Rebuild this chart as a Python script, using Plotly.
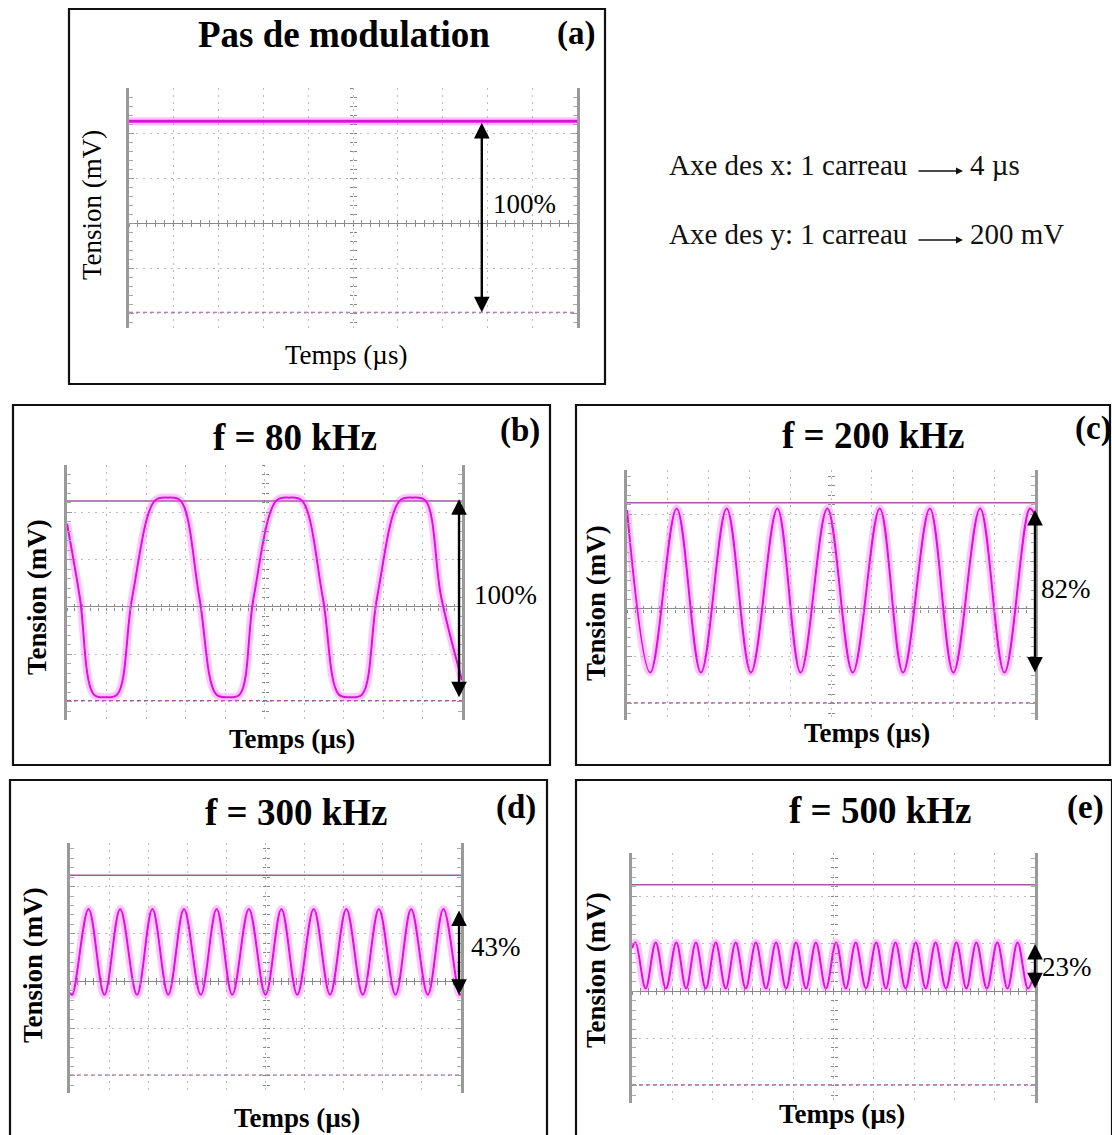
import plotly.graph_objects as go

W, H = 1112, 1135

# Oscilloscope scales
US_PER_DIV = 4          # Axe des x: 1 carreau -> 4 µs
MV_PER_DIV = 200        # Axe des y: 1 carreau -> 200 mV
N_XDIV = 10
T_END = US_PER_DIV * N_XDIV

# Cursor levels (mV): solid = maximum, dashed = zero light
TOP_LEVEL_MV = 448
ZERO_LEVEL_MV = -396
FULL_SWING_MV = TOP_LEVEL_MV - ZERO_LEVEL_MV

# (a) no modulation: flat trace
a_t = [0, 40]
a_v = [452, 452]

# Modulation depth (%) and mean level (mV) of each modulated trace
depth_pct = {"b": 100, "c": 82, "d": 43, "e": 23}
mean_mv = {"b": 40, "c": 78, "d": 124, "e": 108}

# (b) 80 kHz, saturated: knot times (µs) and normalised level (-1 .. 1)
b_t = [0, 1.3, 2.7, 3.9, 5.1, 6.6, 8.9, 10.2, 11.5, 13.4, 15.1, 16.3, 17.5,
       18.9, 21.2, 22.5, 23.8, 25.9, 27.5, 28.7, 29.9, 31.4, 33.7, 35.0,
       36.3, 37.9, 40]
b_lvl = [0.74, 0, -0.97, -1, -0.97, 0, 0.97, 1, 0.97, 0, -0.97, -1, -0.97,
         0, 0.97, 1, 0.97, 0, -0.97, -1, -0.97, 0, 0.97, 1, 0.97, 0, -0.83]

# (c) 200 kHz
c_peaks = [4.87, 9.77, 14.74, 19.64, 24.78, 29.69, 34.62, 39.49]
c_troughs = [2.28, 7.25, 12.15, 17.02, 22.13, 27.06, 32.0, 37.0]
c_ends = [0.98, 0.92]

# (d) 300 kHz
d_peaks = [1.90, 5.13, 8.43, 11.66, 15.0, 18.3, 21.63, 24.93, 28.27, 31.6,
           34.9, 38.2]
d_troughs = [0.23, 3.52, 6.85, 10.05, 13.38, 16.6, 20.0, 23.25, 26.6, 29.95,
             33.3, 36.6, 39.85]
d_ends = [-0.95, -0.97]

# (e) 500 kHz
e_peaks = [0.35, 2.35, 4.4, 6.34, 8.31, 10.29, 12.29, 14.3, 16.28, 18.25,
           20.26, 22.2, 24.24, 26.15, 28.16, 30.13, 32.2, 34.18, 36.26, 38.27]
e_troughs = [1.35, 3.37, 5.37, 7.32, 9.3, 11.29, 13.3, 15.29, 17.27, 19.25,
             21.23, 23.22, 25.2, 27.15, 29.15, 31.16, 33.19, 35.22, 37.27,
             39.3]
e_ends = [0.75, -0.2]

titles = {"a": "Pas de modulation", "b": "f = 80 kHz", "c": "f = 200 kHz",
          "d": "f = 300 kHz", "e": "f = 500 kHz"}

# ---------------------------------------------------------------- layout (px)
panels = {
    "a": dict(box=(69, 9, 605, 384), plot=(129, 88, 577, 328), yr=(-466, 600),
              title_xy=(344, 34), tag_xy=(576, 33), ylab_xy=(92, 205),
              xlab_xy=(346, 355), pct_xy=(524, 204), arrow_t=31.5, bold=False),
    "b": dict(box=(13, 405, 550, 765), plot=(67, 465, 462, 720), yr=(-478, 600),
              title_xy=(295, 438), tag_xy=(520, 431), ylab_xy=(37, 597),
              xlab_xy=(292, 739), pct_xy=(505, 595), arrow_t=39.7, bold=True),
    "c": dict(box=(576, 405, 1110, 765), plot=(627, 470, 1035, 720), yr=(-468, 586),
              title_xy=(873, 435), tag_xy=(1093, 428), ylab_xy=(596, 603),
              xlab_xy=(867, 733), pct_xy=(1066, 589), arrow_t=40, bold=True),
    "d": dict(box=(10, 780, 547, 1145), plot=(70, 843, 461, 1093), yr=(-472, 584),
              title_xy=(296, 813), tag_xy=(516, 807), ylab_xy=(33, 965),
              xlab_xy=(297, 1118), pct_xy=(496, 947), arrow_t=39.8, bold=True),
    "e": dict(box=(576, 780, 1112, 1145), plot=(632, 853, 1035, 1103), yr=(-472, 582),
              title_xy=(880, 810), tag_xy=(1085, 807), ylab_xy=(596, 970),
              xlab_xy=(842, 1114), pct_xy=(1067, 967), arrow_t=40, bold=True),
}

SERIF = "Liberation Serif, Times New Roman, serif"
GRID = "#bdbdbd"
EDGE = "#9a9a9a"
CENTER = "#8a8a8a"
CURSOR = "#a2589e"
TRACE = "#e00fe0"
HALO = "rgba(255, 70, 255, 0.30)"


def px(x):
    return x / W


def py(y):
    return 1 - y / H


def knots(peaks, troughs, ends):
    pts = [(t, 1.0) for t in peaks] + [(t, -1.0) for t in troughs]
    pts.sort()
    ts = [0.0] + [p[0] for p in pts] + [float(T_END)]
    ls = [ends[0]] + [p[1] for p in pts] + [ends[1]]
    return ts, ls


waves = {
    "b": (b_t, b_lvl),
    "c": knots(c_peaks, c_troughs, c_ends),
    "d": knots(d_peaks, d_troughs, d_ends),
    "e": knots(e_peaks, e_troughs, e_ends),
}

fig = go.Figure()
layout = dict(width=W, height=H, margin=dict(l=0, r=0, t=0, b=0),
              paper_bgcolor="white", plot_bgcolor="white", showlegend=False)
shapes, annotations = [], []

for i, key in enumerate(["a", "b", "c", "d", "e"]):
    p = panels[key]
    k = 3 * i + 1
    names = [("" if n == 1 else str(n)) for n in (k, k + 1, k + 2)]
    xs = ["x" + n for n in names]
    ys = ["y" + n for n in names]
    x0, y0, x1, y1 = p["plot"]
    xdom = [px(x0), px(x1)]
    ydom = [py(y1), py(y0)]
    yr = list(p["yr"])
    yc = ydom[0] + (0 - yr[0]) / (yr[1] - yr[0]) * (ydom[1] - ydom[0])
    xc = xdom[0] + 0.5 * (xdom[1] - xdom[0])

    # main screen: dotted graticule, thick side edges with fine ticks
    layout["xaxis" + names[0]] = dict(
        domain=xdom, range=[0, T_END], anchor=ys[0], tickmode="linear", tick0=0,
        dtick=US_PER_DIV, showgrid=True, gridcolor=GRID, griddash="2px,5px",
        gridwidth=1, zeroline=False, showline=False, ticks="",
        showticklabels=False, fixedrange=True)
    layout["yaxis" + names[0]] = dict(
        domain=ydom, range=yr, anchor=xs[0], tickmode="linear", tick0=0,
        dtick=MV_PER_DIV, showgrid=True, gridcolor=GRID, griddash="2px,5px",
        gridwidth=1, zeroline=True, zerolinecolor=CENTER, zerolinewidth=1,
        showline=True, linecolor=EDGE, linewidth=3, mirror="ticks",
        ticks="inside", ticklen=5, tickcolor=EDGE, showticklabels=False,
        minor=dict(tick0=0, dtick=MV_PER_DIV / 5, ticks="inside", ticklen=4,
                   tickcolor="#aaaaaa", showgrid=False),
        fixedrange=True)
    # central cross-hair graduations on both sides of each centre line
    for j, side_ticks in ((1, "outside"), (2, "inside")):
        layout["xaxis" + names[j]] = dict(
            overlaying=xs[0], anchor="free", position=yc, side="bottom",
            range=[0, T_END], tickmode="linear", tick0=0,
            dtick=US_PER_DIV / 5, ticks=side_ticks, ticklen=3,
            tickcolor=CENTER, showticklabels=False, showgrid=False,
            zeroline=False, showline=False, fixedrange=True)
        layout["yaxis" + names[j]] = dict(
            overlaying=ys[0], anchor="free", position=xc, side="left",
            range=yr, tickmode="linear", tick0=0, dtick=MV_PER_DIV / 5,
            ticks=side_ticks, ticklen=3, tickcolor=CENTER,
            showticklabels=False, showgrid=False, zeroline=False,
            showline=False, fixedrange=True)
        fig.add_trace(go.Scatter(x=[], y=[], xaxis=xs[j], yaxis=ys[j],
                                 hoverinfo="skip"))

    # cursors
    fig.add_trace(go.Scatter(x=[0, T_END], y=[ZERO_LEVEL_MV] * 2, mode="lines",
                             line=dict(color=CURSOR, width=1.2, dash="4px,3px"),
                             xaxis=xs[0], yaxis=ys[0], hoverinfo="skip"))
    if key == "a":
        t, v = a_t, a_v
        hi, lo = a_v[0], ZERO_LEVEL_MV
        halo_w, core_w = 8, 3
    else:
        fig.add_trace(go.Scatter(x=[0, T_END], y=[TOP_LEVEL_MV] * 2, mode="lines",
                                 line=dict(color=CURSOR, width=1.5),
                                 xaxis=xs[0], yaxis=ys[0], hoverinfo="skip"))
        half = depth_pct[key] / 100 * FULL_SWING_MV / 2
        t, lv = waves[key]
        v = [mean_mv[key] + l * half for l in lv]
        hi, lo = mean_mv[key] + half, mean_mv[key] - half
        halo_w, core_w = 8, 2

    fig.add_trace(go.Scatter(x=t, y=v, mode="lines",
                             line=dict(color=HALO, width=halo_w, shape="spline",
                                       smoothing=1),
                             xaxis=xs[0], yaxis=ys[0], hoverinfo="skip"))
    fig.add_trace(go.Scatter(x=t, y=v, mode="lines",
                             line=dict(color=TRACE, width=core_w, shape="spline",
                                       smoothing=1),
                             xaxis=xs[0], yaxis=ys[0], hoverinfo="skip"))

    # measured swing
    annotations.append(dict(
        x=p["arrow_t"], y=lo, ax=p["arrow_t"], ay=hi, xref=xs[0], yref=ys[0],
        axref=xs[0], ayref=ys[0], text="", showarrow=True, arrowhead=2,
        startarrowhead=2, arrowside="end+start", arrowsize=1.3,
        startarrowsize=1.3, arrowwidth=2.4, arrowcolor="black"))
    pct = 100 if key == "a" else depth_pct[key]
    annotations.append(dict(
        x=px(p["pct_xy"][0]), y=py(p["pct_xy"][1]), xref="paper", yref="paper",
        text=f"{pct}%", showarrow=False, xanchor="center", yanchor="middle",
        font=dict(family=SERIF, size=27, color="black")))

    # frame and texts
    bx0, by0, bx1, by1 = p["box"]
    shapes.append(dict(type="rect", xref="paper", yref="paper",
                       x0=px(bx0), x1=px(bx1), y0=py(by1), y1=py(by0),
                       line=dict(color="#111111", width=2.2)))
    annotations.append(dict(
        x=px(p["title_xy"][0]), y=py(p["title_xy"][1]), xref="paper",
        yref="paper", text=f"<b>{titles[key]}</b>", showarrow=False,
        xanchor="center", yanchor="middle",
        font=dict(family=SERIF, size=37, color="black")))
    annotations.append(dict(
        x=px(p["tag_xy"][0]), y=py(p["tag_xy"][1]), xref="paper", yref="paper",
        text=f"<b>({key})</b>", showarrow=False, xanchor="center",
        yanchor="middle", font=dict(family=SERIF, size=33, color="black")))
    ylab = "Tension (mV)"
    xlab = "Temps (µs)"
    if p["bold"]:
        ylab, xlab = f"<b>{ylab}</b>", f"<b>{xlab}</b>"
    annotations.append(dict(
        x=px(p["ylab_xy"][0]), y=py(p["ylab_xy"][1]), xref="paper",
        yref="paper", text=ylab, textangle=-90, showarrow=False,
        xanchor="center", yanchor="middle",
        font=dict(family=SERIF, size=27, color="black")))
    annotations.append(dict(
        x=px(p["xlab_xy"][0]), y=py(p["xlab_xy"][1]), xref="paper",
        yref="paper", text=xlab, showarrow=False, xanchor="center",
        yanchor="middle", font=dict(family=SERIF, size=27, color="black")))

# scale legend on the right of panel (a)
scale_lines = [("Axe des x: 1 carreau", f"{US_PER_DIV} µs", 165),
               ("Axe des y: 1 carreau", f"{MV_PER_DIV} mV", 234)]
for left_txt, right_txt, yy in scale_lines:
    annotations.append(dict(
        x=px(667), y=py(yy), xref="paper", yref="paper", text=left_txt,
        showarrow=False, xanchor="left", yanchor="middle",
        font=dict(family=SERIF, size=29, color="#111111")))
    annotations.append(dict(
        x=px(963), y=py(yy + 6), ax=-46, ay=0, xref="paper", yref="paper",
        text="", showarrow=True, arrowhead=2, arrowsize=1, arrowwidth=1.4,
        arrowcolor="#111111"))
    annotations.append(dict(
        x=px(968), y=py(yy), xref="paper", yref="paper", text=right_txt,
        showarrow=False, xanchor="left", yanchor="middle",
        font=dict(family=SERIF, size=29, color="#111111")))

layout["shapes"] = shapes
layout["annotations"] = annotations
fig.update_layout(**layout)
fig.update_traces(showlegend=False)

fig.write_html("out.html")
